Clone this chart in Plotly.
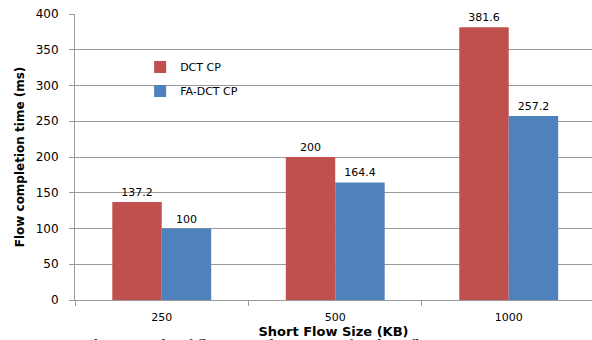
import plotly.graph_objects as go

# Flow sizes (KB) and completion times (ms)
categories = ["250", "500", "1000"]
dctcp_ms = [137.2, 200, 381.6]
fa_dctcp_ms = [100, 164.4, 257.2]
series_names = ["DCT CP", "FA-DCT CP"]
y_ticks = [0, 50, 100, 150, 200, 250, 300, 350, 400]

RED = "#C0504D"
BLUE = "#4F81BD"
GRID = "#9a9a9a"
FONT = "DejaVu Sans"

fig = go.Figure()
fig.add_trace(go.Bar(
    x=categories, y=dctcp_ms, name=series_names[0],
    marker=dict(color=RED, line=dict(width=0)),
    text=[f"{v:g}" for v in dctcp_ms], textposition="outside",
    textfont=dict(family=FONT, size=11, color="#000"),
    cliponaxis=False, legend="legend", showlegend=True,
))
fig.add_trace(go.Bar(
    x=categories, y=fa_dctcp_ms, name=series_names[1],
    marker=dict(color=BLUE, line=dict(width=0)),
    text=[f"{v:g}" for v in fa_dctcp_ms], textposition="outside",
    textfont=dict(family=FONT, size=11, color="#000"),
    cliponaxis=False, legend="legend2", showlegend=True,
))

fig.update_layout(
    width=592, height=340,
    margin=dict(l=75, r=0, t=14, b=40),
    paper_bgcolor="white", plot_bgcolor="white",
    barmode="group", bargap=0.43, bargroupgap=0,
    showlegend=True,
    font=dict(family=FONT, size=11, color="#000"),
    legend=dict(x=0.126, y=0.815, xanchor="left", yanchor="middle",
                bgcolor="rgba(0,0,0,0)", font=dict(size=11),
                itemwidth=30, visible=True),
    legend2=dict(x=0.126, y=0.731, xanchor="left", yanchor="middle",
                 bgcolor="rgba(0,0,0,0)", font=dict(size=11),
                 itemwidth=30, visible=True),
    xaxis=dict(
        type="category", range=[-0.5, 2.48],
        showline=True, linecolor=GRID, linewidth=1,
        ticks="outside", tickson="boundaries", ticklen=5, tickcolor=GRID,
        tickfont=dict(size=11), ticklabelstandoff=7,
        title=dict(text="<b>Short Flow Size (KB)</b>", font=dict(size=13), standoff=0),
        showgrid=False,
    ),
    yaxis=dict(
        range=[0, 400], tickvals=y_ticks,
        showline=True, linecolor=GRID, linewidth=1,
        showgrid=True, gridcolor=GRID, gridwidth=1,
        ticks="outside", ticklen=5, tickcolor=GRID,
        tickfont=dict(size=12), ticklabelstandoff=8,
        zeroline=False,
        title=dict(text="<b>Flow completion time (ms)</b>", font=dict(size=12), standoff=8),
    ),
)

fig.add_annotation(
    text="Fig. 3.20 99th percentile of flow completion time for short flows",
    xref="paper", yref="paper", x=-0.135, y=-0.119,
    xanchor="left", yanchor="top", showarrow=False,
    font=dict(family="Liberation Serif", size=17, color="#000"),
)

fig.write_html("out.html")
